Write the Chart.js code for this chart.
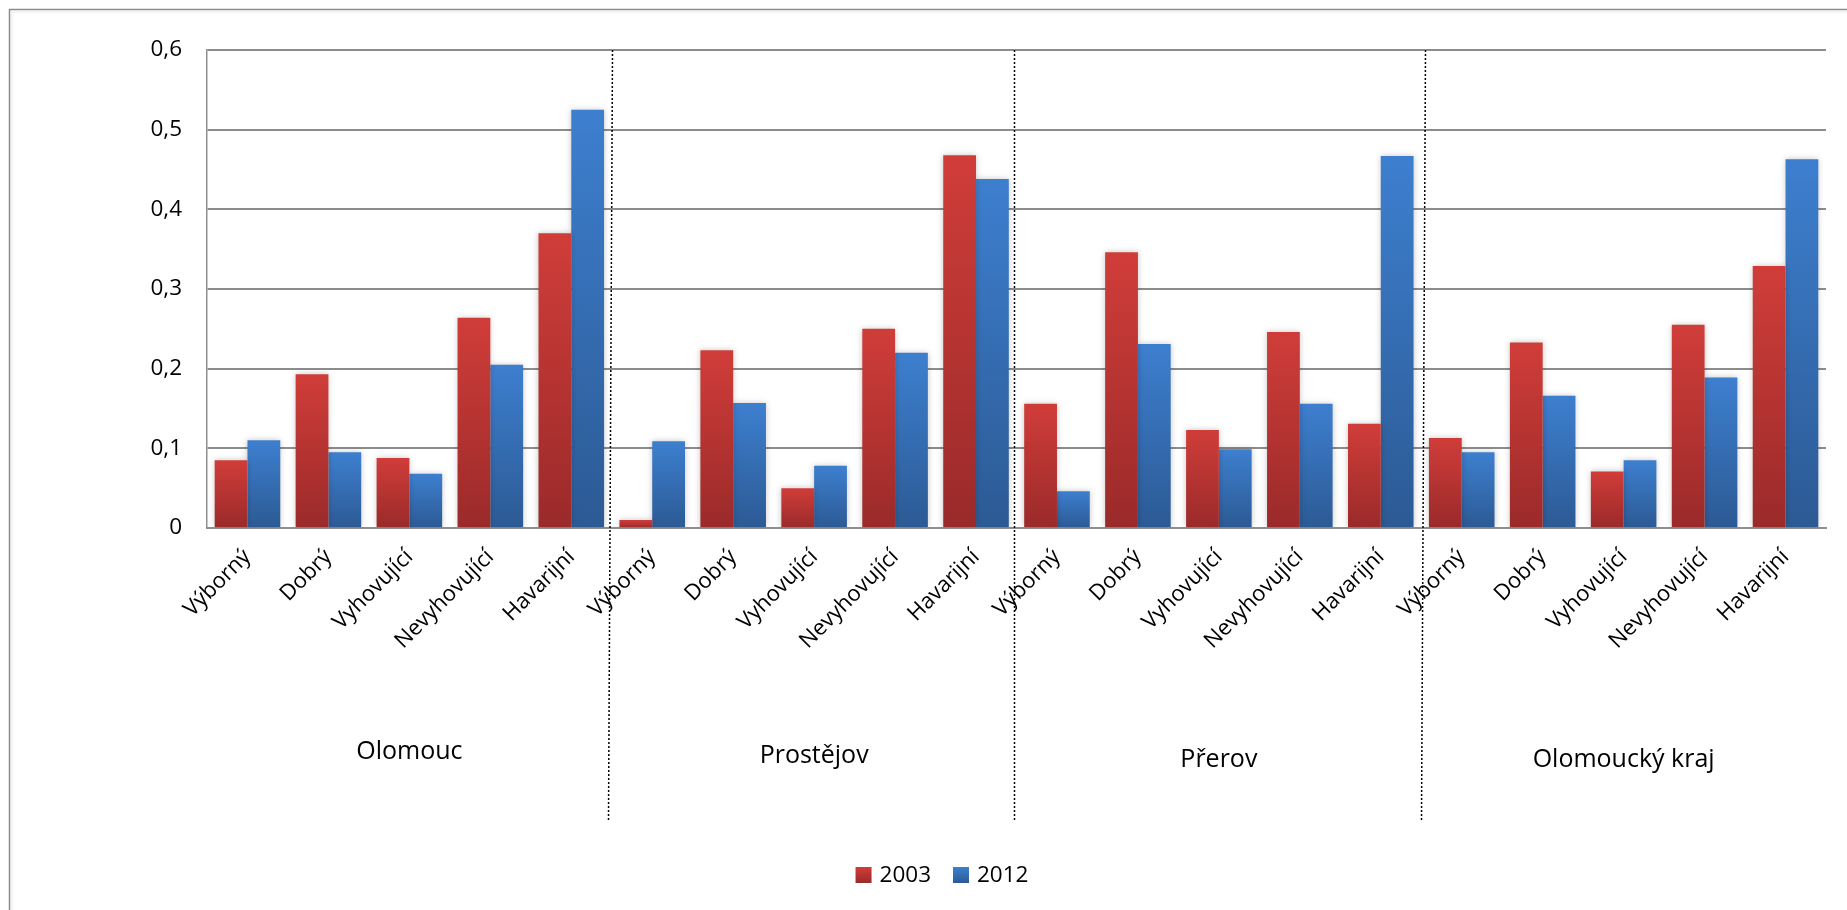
<!DOCTYPE html>
<html>
<head>
<meta charset="utf-8">
<script src="https://cdn.jsdelivr.net/npm/chart.js@4.4.1/dist/chart.umd.min.js"></script>
<style>
  html, body { margin: 0; padding: 0; background: #ffffff; }
  #wrap { width: 1847px; height: 910px; position: relative; }
</style>
</head>
<body>
<div id="wrap"><canvas id="c" width="1847" height="910"></canvas></div>
<script>
// ---- data ----
const regions = ['Olomouc', 'Prostějov', 'Přerov', 'Olomoucký kraj'];
const ratings = ['Výborný', 'Dobrý', 'Vyhovující', 'Nevyhovující', 'Havarijní'];
const seriesNames = ['2003', '2012'];
const values2003 = [0.085, 0.193, 0.088, 0.264, 0.370,
                    0.010, 0.223, 0.050, 0.250, 0.468,
                    0.156, 0.346, 0.123, 0.246, 0.131,
                    0.113, 0.233, 0.071, 0.255, 0.329];
const values2012 = [0.110, 0.095, 0.068, 0.205, 0.525,
                    0.109, 0.157, 0.078, 0.220, 0.438,
                    0.046, 0.231, 0.099, 0.156, 0.467,
                    0.095, 0.166, 0.085, 0.189, 0.463];
const yTickLabels = ['0', '0,1', '0,2', '0,3', '0,4', '0,5', '0,6'];

// ---- derived ----
const categories = regions.flatMap(() => ratings);
const FONT = "'Open Sans', sans-serif";
const redStops = ['#d03d39', '#9a2a2a'];
const blueStops = ['#3d7fcf', '#2c5a94'];

function gradientFill(stops) {
  return (context) => {
    const chart = context.chart;
    const yScale = chart.scales && chart.scales.y;
    if (context.type !== 'data' || !yScale || !chart.chartArea) return stops[0];
    const top = yScale.getPixelForValue(context.raw);
    const bottom = yScale.getPixelForValue(0);
    if (!isFinite(top) || !isFinite(bottom) || Math.abs(bottom - top) < 1) return stops[0];
    const g = chart.ctx.createLinearGradient(0, top, 0, bottom);
    g.addColorStop(0, stops[0]);
    g.addColorStop(1, stops[1]);
    return g;
  };
}

const decorPlugin = {
  id: 'decor',
  beforeDraw(chart) {
    const ctx = chart.ctx;
    ctx.save();
    ctx.fillStyle = '#ffffff';
    ctx.fillRect(0, 0, chart.width, chart.height);
    // outer chart frame (top & left visible)
    ctx.strokeStyle = '#8a8a8a';
    ctx.lineWidth = 1.5;
    ctx.beginPath();
    ctx.moveTo(chart.width, 9.5);
    ctx.lineTo(9.5, 9.5);
    ctx.lineTo(9.5, chart.height);
    ctx.stroke();
    ctx.strokeStyle = 'rgba(0,0,0,0.06)';
    ctx.beginPath();
    ctx.moveTo(chart.width, 12);
    ctx.lineTo(12, 12);
    ctx.lineTo(12, chart.height);
    ctx.stroke();
    ctx.restore();
  },
  beforeDatasetsDraw(chart) {
    const ctx = chart.ctx;
    ctx.save();
    ctx.shadowColor = 'rgba(0,0,0,0.22)';
    ctx.shadowBlur = 6;
    ctx.shadowOffsetX = 0;
    ctx.shadowOffsetY = 0;
  },
  afterDatasetsDraw(chart) {
    chart.ctx.restore();
  },
  afterDraw(chart) {
    const ctx = chart.ctx;
    const x = chart.scales.x;
    const area = chart.chartArea;
    const n = ratings.length;
    ctx.save();
    // dotted region separators (slightly slanted, as in the original rendering)
    const topShift = [0, -3, 4];
    const bottomShift = [-4, -3, 0];
    ctx.strokeStyle = '#000000';
    ctx.lineWidth = 1.5;
    ctx.setLineDash([2, 2]);
    for (let r = 1; r < regions.length; r++) {
      const sx = Math.round((x.getPixelForValue(r * n - 1) + x.getPixelForValue(r * n)) / 2) + 0.5;
      ctx.beginPath();
      ctx.moveTo(sx + topShift[r - 1], area.top);
      ctx.lineTo(sx + bottomShift[r - 1], 820);
      ctx.stroke();
    }
    ctx.setLineDash([]);
    // region labels
    ctx.fillStyle = '#000000';
    ctx.font = '25px ' + FONT;
    ctx.textAlign = 'center';
    ctx.textBaseline = 'middle';
    const groupY = [752, 756, 760, 760];
    regions.forEach((name, r) => {
      const cx = (x.getPixelForValue(r * n) + x.getPixelForValue(r * n + n - 1)) / 2;
      ctx.fillText(name, cx, groupY[r]);
    });
    // legend
    ctx.font = '22.5px ' + FONT;
    ctx.textAlign = 'left';
    const sq = 16;
    const gapSqText = 8;
    const gapItems = 22;
    const widths = seriesNames.map(s => ctx.measureText(s).width);
    const total = widths.reduce((a, w) => a + sq + gapSqText + w, 0) + gapItems;
    let lx = 942 - total / 2;
    const ly = 875;
    [redStops, blueStops].forEach((stops, i) => {
      const g = ctx.createLinearGradient(0, ly - sq / 2, 0, ly + sq / 2);
      g.addColorStop(0, stops[0]);
      g.addColorStop(1, stops[1]);
      ctx.fillStyle = g;
      ctx.fillRect(lx, ly - sq / 2, sq, sq);
      ctx.fillStyle = '#000000';
      ctx.fillText(seriesNames[i], lx + sq + gapSqText, ly + 1);
      lx += sq + gapSqText + widths[i] + gapItems;
    });
    ctx.restore();
  }
};

new Chart(document.getElementById('c'), {
  type: 'bar',
  data: {
    labels: categories,
    datasets: [
      { label: seriesNames[0], data: values2003, backgroundColor: gradientFill(redStops), borderWidth: 0 },
      { label: seriesNames[1], data: values2012, backgroundColor: gradientFill(blueStops), borderWidth: 0 }
    ]
  },
  options: {
    responsive: false,
    animation: false,
    devicePixelRatio: 1,
    layout: { padding: { top: 50, right: 21, left: 0, bottom: 0 } },
    datasets: { bar: { categoryPercentage: 0.81, barPercentage: 1.0 } },
    plugins: {
      legend: { display: false },
      tooltip: { enabled: false },
      title: { display: false }
    },
    scales: {
      x: {
        grid: { display: false, drawTicks: false },
        border: { display: true, color: '#8f8f8f', width: 2 },
        ticks: {
          autoSkip: false,
          maxRotation: 45,
          minRotation: 45,
          padding: 16,
          color: '#000000',
          font: { family: FONT, size: 22 }
        },
        afterFit(scale) { scale.height = 382; }
      },
      y: {
        min: 0,
        max: 0.6,
        ticks: {
          stepSize: 0.1,
          padding: 25,
          color: '#000000',
          font: { family: FONT, size: 22.5 },
          callback: (v, i) => yTickLabels[i]
        },
        grid: { color: '#8c8c8c', lineWidth: 2, drawTicks: false },
        border: { display: true, color: '#8f8f8f', width: 1.5 },
        afterFit(scale) { scale.width = 207; }
      }
    }
  },
  plugins: [decorPlugin]
});
</script>
</body>
</html>
